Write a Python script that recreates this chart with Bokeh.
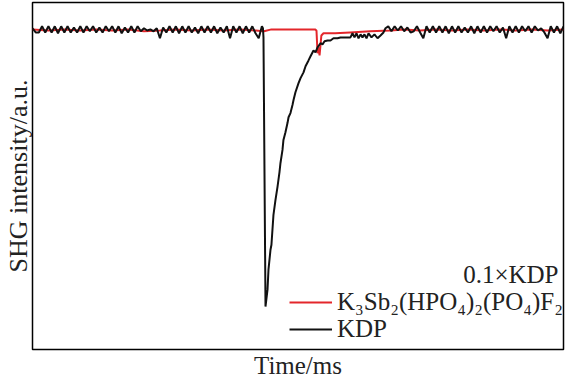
from bokeh.plotting import figure
from bokeh.models import Legend, LegendItem, Label, Range1d, FixedTicker
from bokeh.embed import file_html
from bokeh.resources import INLINE

# Time (ms) and normalised SHG intensity
kdp_t = [0.0, 0.3, 0.6, 0.9, 1.2, 1.5, 1.8, 2.1, 2.4, 2.7, 3.0, 3.3, 3.6, 3.9, 4.2, 4.5, 4.8, 5.1, 5.4, 5.7,
         6.0, 6.3, 6.6, 6.9, 7.2, 7.5, 7.8, 8.1, 8.4, 8.7, 9.0, 9.3, 9.6, 9.9, 10.2, 10.5, 10.8, 11.1, 11.4, 11.7,
         12.0, 12.3, 12.6, 12.9, 13.2, 13.5, 13.8, 14.1, 14.4, 14.7, 15.0, 15.3, 15.6, 15.9, 16.2, 16.5, 16.8, 17.1,
         17.4, 17.7, 18.0, 18.3, 18.6, 18.9, 19.2, 19.5, 19.8, 20.1, 20.4, 20.7, 21.0, 21.3, 21.6,
         21.70, 21.75, 21.94,
         22.13, 22.22, 22.41, 22.50, 22.69, 22.88, 23.07, 23.26, 23.35, 23.54, 23.63, 23.82, 24.01, 24.11, 24.29,
         24.48, 24.58, 24.76, 25.05, 25.24, 25.52, 25.71, 25.99, 26.18, 26.46, 26.65, 26.84, 27.12, 27.31, 27.50,
         27.78, 28.06, 28.34, 28.72, 29.00, 29.47, 29.94,
         30.13, 30.32, 30.51, 30.70, 30.89, 31.07, 31.26, 31.45, 31.64, 31.92, 32.20, 32.49, 32.77, 33.05, 33.24,
         33.5, 33.8, 34.1, 34.4, 34.7, 35.0, 35.3, 35.6, 35.9, 36.2, 36.5, 36.8, 37.1, 37.4, 37.7, 38.0, 38.3, 38.6,
         38.9, 39.2, 39.5, 39.8, 40.1, 40.4, 40.7, 41.0, 41.3, 41.6, 41.9, 42.2, 42.5, 42.8, 43.1, 43.4, 43.7, 44.0,
         44.3, 44.6, 44.9, 45.2, 45.5, 45.8, 46.1, 46.4, 46.7, 47.0, 47.3, 47.6, 47.9, 48.2, 48.5, 48.8, 49.1, 49.4,
         49.7, 50.0]
kdp_i = [1.004, 0.989, 0.989, 1.011, 0.989, 1.011, 0.989, 1.011, 0.986, 1.011, 0.989, 1.011, 0.989, 1.007, 0.989,
         1.011, 0.989, 1.011, 0.993, 1.011, 0.989, 1.007, 0.989, 1.011, 0.993, 1.011, 0.989, 1.011, 0.986, 1.007,
         0.989, 1.011, 0.989, 1.011, 0.993, 1.004, 0.996, 1.000, 0.993, 1.004, 0.968, 1.007, 0.989, 1.011, 0.989,
         1.011, 0.986, 1.011, 0.989, 1.011, 0.989, 1.007, 0.986, 1.011, 0.989, 1.011, 0.989, 1.011, 0.986, 1.007,
         0.989, 1.011, 0.968, 1.011, 0.989, 1.011, 0.986, 1.011, 0.989, 1.011, 0.986, 0.968, 1.011,
         1.004, 0.971, 0.000,
         0.061, 0.133, 0.205, 0.223, 0.331, 0.385, 0.432, 0.486, 0.518, 0.565, 0.601, 0.629, 0.662, 0.683, 0.698,
         0.727, 0.745, 0.773, 0.806, 0.824, 0.845, 0.867, 0.888, 0.903, 0.924, 0.917, 0.935, 0.950, 0.946, 0.957,
         0.960, 0.960, 0.968, 0.968, 0.971, 0.971, 0.971,
         0.986, 0.971, 0.986, 0.968, 0.982, 0.971, 0.982, 0.968, 0.986, 0.971, 0.982, 0.968, 0.978, 0.989, 1.004,
         1.011, 0.993, 1.011, 0.996, 1.011, 0.993, 1.007, 0.989, 0.993, 1.011, 0.989, 0.968, 1.011, 0.989, 1.011,
         0.989, 1.011, 0.989, 1.011, 0.986, 1.011, 0.989, 1.011, 0.989, 1.007, 0.989, 1.011, 0.986, 1.011, 0.989,
         1.011, 0.989, 1.011, 0.993, 1.011, 0.989, 1.007, 0.968, 1.011, 0.989, 1.011, 0.989, 1.011, 0.993, 1.011,
         0.989, 1.011, 0.996, 1.004, 0.989, 0.968, 1.011, 0.989, 1.011, 0.986, 1.011]

ksb_t = [0.0, 1.5, 3.0, 4.5, 6.0, 7.5, 9.0, 10.5, 12.0, 13.5, 15.0, 16.5, 18.0, 19.5, 21.0, 21.8, 22.5, 24.0,
         25.5, 26.6, 26.74, 26.84, 26.93, 27.03, 27.2, 27.4, 28.5, 29.9, 31.8, 33.7, 35.0, 36.5, 38.0, 39.5,
         41.0, 42.5, 44.0, 45.5, 47.0, 48.5, 50.0]
ksb_i = [1.000, 0.996, 1.000, 0.996, 1.000, 0.996, 1.000, 0.993, 0.996, 1.000, 0.996, 1.000, 0.996, 1.000,
         0.996, 0.993, 1.000, 1.000, 1.000, 1.000, 0.996, 0.914, 0.935, 0.906, 0.978, 0.986, 0.986, 0.989,
         0.993, 0.996, 1.000, 0.996, 1.000, 0.996, 1.000, 0.996, 1.000, 0.996, 1.000, 0.996, 1.000]

series_names = ["K\u2083Sb\u2082(HPO\u2084)\u2082(PO\u2084)F\u2082", "KDP"]
scale_note = "0.1\u00d7KDP"
x_title = "Time/ms"
y_title = "SHG intensity/a.u."

FONT = "Liberation Serif"
TEXT_COLOR = "#222222"

p = figure(width=567, height=381, output_backend="svg", toolbar_location=None,
           x_range=Range1d(0, 50), y_range=Range1d(-0.155, 1.097),
           min_border_left=32, min_border_right=4, min_border_top=2, min_border_bottom=31)

p.grid.visible = False
p.outline_line_color = "black"
p.outline_line_width = 1.5
p.background_fill_color = "white"
p.border_fill_color = "white"

for ax in (p.xaxis[0], p.yaxis[0]):
    ax.ticker = FixedTicker(ticks=[])
    ax.major_tick_out = 0
    ax.major_tick_in = 0
    ax.minor_tick_out = 0
    ax.minor_tick_in = 0
    ax.major_label_standoff = 0
    ax.axis_line_color = None
    ax.axis_label_text_font = FONT
    ax.axis_label_text_font_style = "normal"
    ax.axis_label_text_color = TEXT_COLOR

p.xaxis.axis_label = x_title
p.yaxis.axis_label = y_title
p.xaxis.axis_label_text_font_size = "25px"
p.yaxis.axis_label_text_font_size = "26px"
p.xaxis.axis_label_standoff = 2
p.yaxis.axis_label_standoff = 0

r_red = p.line(ksb_t, ksb_i, line_color="#e3262b", line_width=2)
r_blk = p.line(kdp_t, kdp_i, line_color="#111111", line_width=2)

def make_legend(item, loc):
    return Legend(items=[item], location=loc, orientation="vertical",
                  label_text_font=FONT, label_text_font_size="25px", label_text_color=TEXT_COLOR,
                  glyph_width=43, glyph_height=20, label_standoff=5,
                  spacing=0, padding=0, margin=0,
                  background_fill_alpha=0, border_line_alpha=0)

p.add_layout(make_legend(LegendItem(label=series_names[0], renderers=[r_red]), (257, 33)))
p.add_layout(make_legend(LegendItem(label=series_names[1], renderers=[r_blk]), (257, 6)))

note = Label(x=526, y=75, x_units="screen", y_units="screen", text=scale_note,
             text_font=FONT, text_font_size="25px", text_color=TEXT_COLOR,
             text_align="right", text_baseline="middle")
p.add_layout(note)

open("out.html", "w").write(file_html(p, INLINE))
